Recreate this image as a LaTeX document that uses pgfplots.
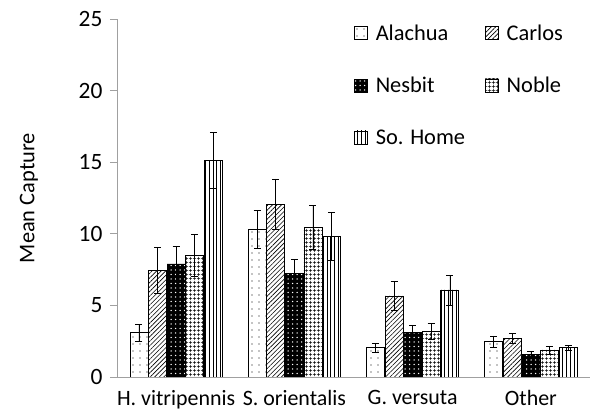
\documentclass[border=0pt]{standalone}
\usepackage{fontspec}
\setmainfont{Carlito}
\usepackage{pgfplots}
\pgfplotsset{compat=1.18}
\usetikzlibrary{patterns.meta}
\definecolor{axisgrey}{RGB}{160,160,160}
\newcommand{\bigf}{\fontsize{22.5}{26}\selectfont}
\newcommand{\xf}{\fontsize{22}{26}\selectfont}
\newcommand{\tickf}{\fontsize{23.5}{27}\selectfont}
\begin{document}
\begin{tikzpicture}
\useasboundingbox (0,0) rectangle (593bp,414bp);
\begin{axis}[
  at={(117bp,37bp)}, anchor=origin,
  scale only axis, width=473bp, height=358bp,
  xmin=0.5, xmax=4.5, ymin=0, ymax=25,
  axis lines=left, axis line style={axisgrey, line width=0.8pt, -},
  ytick={0,5,...,25},
  ytick style={axisgrey, line width=0.8pt},
  tick align=outside, major tick length=7bp,
  xtick={1,2,3,4},
  xticklabels={H. vitripennis, S. orientalis, G. versuta, Other},
  xtick style={draw=none},
  extra x ticks={0.5,1.5,2.5,3.5,4.5},
  extra x tick labels={},
  extra x tick style={xtick style={axisgrey, line width=0.8pt}, major tick length=7bp},
  /pgf/number format/assume math mode=true,
  yticklabel style={font=\tickf, xshift=-4bp},
  xticklabel style={font=\xf, yshift=-3bp},
  ylabel={Mean Capture},
  every axis y label/.style={at={(0,0.5)}, xshift=-88bp, rotate=90, anchor=center, font=\bigf},
  ybar=0.6bp, bar width=18bp,
  error bars/y dir=both, error bars/y explicit,
  error bars/error bar style={black, line width=0.6pt},
  error bars/error mark options={rotate=90, mark size=3.5bp, line width=0.6pt, black},
  legend columns=2,
  legend cell align=left,
  legend style={draw=none, fill=none, at={(0.501,0.99)}, anchor=north west,
    font=\bigf, inner sep=0pt,
    /tikz/every odd column/.append style={column sep=6bp},
    /tikz/every even column/.append style={column sep=18bp},
    row sep=31.5bp},
  legend image code/.code={\draw[#1, line width=0.6pt] (0bp,-6bp) rectangle (13bp,7bp);},
]
\addplot[draw=black, line width=0.7pt, pattern={Dots[distance=7bp, radius=0.55bp]}]
  coordinates {(1,3.1) +- (0,0.6) (2,10.3) +- (0,1.33) (3,2.05) +- (0,0.3) (4,2.47) +- (0,0.4)};
\addplot[draw=black, line width=0.7pt, pattern={Lines[angle=45, distance=3.2bp, line width=0.6bp]}]
  coordinates {(1,7.47) +- (0,1.6) (2,12.06) +- (0,1.77) (3,5.66) +- (0,1.0) (4,2.7) +- (0,0.35)};
\addplot[draw=black, line width=0.7pt, fill=black, postaction={pattern={Dots[distance=4.5bp, radius=0.75bp]}, pattern color=white}]
  coordinates {(1,7.9) +- (0,1.2) (2,7.26) +- (0,0.96) (3,3.12) +- (0,0.5) (4,1.58) +- (0,0.2)};
\addplot[draw=black, line width=0.7pt, pattern={Hatch[distance=3.6bp, line width=0.6bp]}]
  coordinates {(1,8.47) +- (0,1.47) (2,10.43) +- (0,1.53) (3,3.19) +- (0,0.55) (4,1.89) +- (0,0.27)};
\addplot[draw=black, line width=0.7pt, pattern={Lines[angle=90, distance=3.8bp, line width=0.6bp]}]
  coordinates {(1,15.13) +- (0,1.95) (2,9.82) +- (0,1.65) (3,6.08) +- (0,1.05) (4,2.05) +- (0,0.18)};
\legend{Alachua, Carlos, Nesbit, Noble, So. Home}
\end{axis}
\end{tikzpicture}
\end{document}
